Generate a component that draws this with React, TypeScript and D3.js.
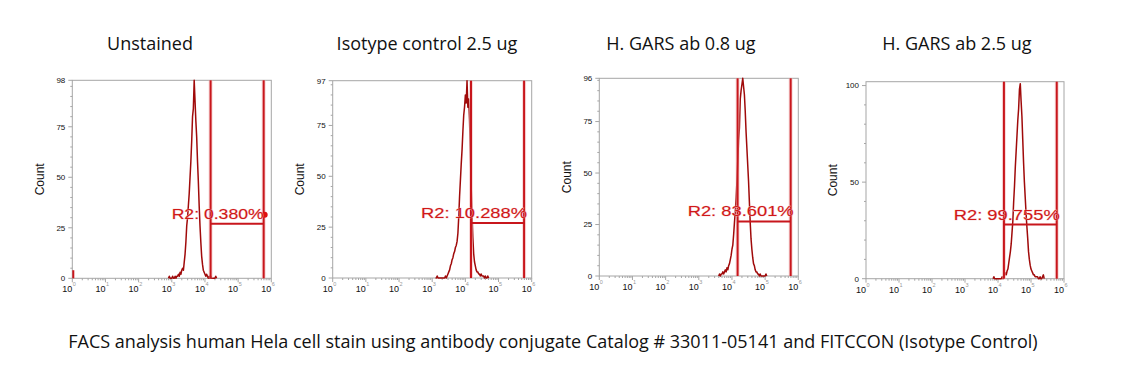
import React from "react";
import * as d3 from "d3";

// ---------- data ----------
const titles = ["Unstained", "Isotype control 2.5 ug", "H. GARS ab 0.8 ug", "H. GARS ab 2.5 ug"];
const gateLabels = ["R2: 0.380%", "R2: 10.288%", "R2: 83.601%", "R2: 99.755%"];
const yMaxes = [98, 97, 96, 102];
const yTickLabels = [
  [0, 25, 50, 75, 98],
  [0, 25, 50, 75, 97],
  [0, 25, 50, 75, 96],
  [0, 50, 100],
];
const yMinorSteps = [5, 5, 5, 10];
const gateLowLog = [4.17, 4.17, 4.17, 4.18];
const gateHighLog = [5.77, 5.77, 5.77, 5.78];
const gateLevels = [27, 27, 26.5, 28];
const gateHandle = [true, false, false, false];
const firstChannelCount = [4, 0, 0, 0];
const xDecades = [0, 1, 2, 3, 4, 5, 6];
const BIN_STEP = 0.025; // decades per histogram bin
const binStartLog = [2.9, 3.1, 3.6, 3.85];

const unstainedCounts = [
  0, 1, 0, 0, 0, 1, 0, 0, 1, 0, 1, 1, 2, 1, 3, 2, 4, 5, 4, 8, 12, 18, 26, 30, 36, 42, 50, 58, 68, 80,
  84, 98, 88, 78, 70, 58, 48, 36, 26, 18, 11, 7, 4, 3, 2, 1, 2, 1, 0, 1, 0, 1, 0, 0, 0, 0, 0, 1, 0,
];
const isotypeCounts = [
  0, 0, 1, 0, 0, 0, 0, 0, 0, 0, 0, 0, 1, 0, 1, 2, 3, 4, 6, 7, 9, 10, 12, 13, 15, 16, 18, 22, 30, 40,
  48, 56, 63, 72, 80, 84, 90, 86, 97, 84, 88, 78, 62, 45, 32, 20, 12, 8, 6, 4, 3, 3, 2, 2, 1, 2, 1, 1,
  1, 0, 1, 0, 0, 1, 0,
];
const gars08Counts = [
  0, 1, 0, 1, 1, 2, 1, 2, 3, 2, 4, 3, 5, 6, 8, 10, 13, 15, 20, 26, 31, 38, 46, 56, 66, 72, 86, 90, 93,
  96, 92, 88, 80, 70, 62, 54, 46, 36, 26, 18, 13, 9, 6, 5, 3, 2, 2, 1, 1, 0, 1, 0, 0, 0, 0, 0, 0, 1, 0,
];
const gars25Counts = [
  0, 1, 0, 0, 0, 0, 0, 0, 0, 0, 0, 1, 0, 1, 2, 3, 2, 4, 5, 8, 11, 14, 18, 24, 30, 40, 48, 58, 66, 74,
  82, 88, 98, 101, 92, 84, 72, 60, 50, 42, 34, 27, 21, 14, 10, 7, 5, 4, 3, 2, 2, 1, 1, 1, 1, 0, 0, 1,
  0, 0, 1, 2, 0,
];
const histograms = [unstainedCounts, isotypeCounts, gars08Counts, gars25Counts];

const caption =
  "FACS analysis human Hela cell stain using antibody conjugate Catalog # 33011-05141 and FITCCON (Isotype Control)";

// ---------- layout ----------
const W = 1139;
const H = 378;
const PLOT_W = 199;
const layout = [
  { x: 72.3, y: 80.3, h: 198, titleX: 150 },
  { x: 332.7, y: 80.7, h: 197.3, titleX: 427 },
  { x: 599.3, y: 78.3, h: 197.7, titleX: 681 },
  { x: 866, y: 81.7, h: 197, titleX: 957 },
];

const HIST = "#a00a0a";
const GATE = "#c8161c";
const AXIS = "#a6a6a6";
const TICKFONT = "'Liberation Sans', Arial, sans-serif";
const TITLEFONT = "'Open Sans', 'Noto Sans', sans-serif";

function Panel({ i }: { i: number }) {
  const L = layout[i];
  const w = i === 3 ? 198 : PLOT_W;
  const x = d3.scaleLinear().domain([0, 6]).range([L.x, L.x + w]);
  const y = d3.scaleLinear().domain([0, yMaxes[i]]).range([L.y + L.h, L.y]);
  const counts = histograms[i];
  const pts: [number, number][] = counts.map((c, k) => [binStartLog[i] + k * BIN_STEP, c]);
  const line = d3
    .line<[number, number]>()
    .x((d) => x(d[0]))
    .y((d) => y(d[1]));
  const bottom = L.y + L.h;

  const minorY: number[] = [];
  for (let v = 0; v <= yMaxes[i]; v += yMinorSteps[i]) {
    if (!yTickLabels[i].includes(v)) minorY.push(v);
  }
  const minorX: number[] = [];
  for (let d = 0; d < 6; d++) for (let k = 2; k <= 9; k++) minorX.push(d + Math.log10(k));

  const gl = x(gateLowLog[i]);
  const gh = x(gateHighLog[i]);
  const gy = y(gateLevels[i]);

  return (
    <g>
      <rect x={L.x} y={L.y} width={w} height={L.h} fill="white" stroke={AXIS} strokeWidth={1} />
      {yTickLabels[i].map((v) => (
        <g key={"yt" + v}>
          <line x1={L.x - 4} x2={L.x} y1={y(v)} y2={y(v)} stroke={AXIS} />
          <text
            x={L.x - 7}
            y={y(v)}
            dy="0.35em"
            textAnchor="end"
            fontSize={8}
            fontFamily={TICKFONT}
            fill="#111"
          >
            {v}
          </text>
        </g>
      ))}
      {minorY.map((v) => (
        <line key={"ym" + v} x1={L.x - 2} x2={L.x} y1={y(v)} y2={y(v)} stroke={AXIS} />
      ))}
      {xDecades.map((d) => (
        <g key={"xt" + d}>
          <line x1={x(d)} x2={x(d)} y1={bottom} y2={bottom + 4} stroke={AXIS} />
          <text x={x(d)} y={bottom + 14} textAnchor="end" fontSize={9} fontFamily={TICKFONT} fill="#111">
            10
          </text>
          <text x={x(d) + 0.5} y={bottom + 8} fontSize={5.5} fontFamily={TICKFONT} fill="#999">
            {d}
          </text>
        </g>
      ))}
      {minorX.map((v, k) => (
        <line key={"xm" + k} x1={x(v)} x2={x(v)} y1={bottom} y2={bottom + 2} stroke={AXIS} />
      ))}
      <text
        transform={`translate(${L.x - 33},${L.y + L.h / 2}) rotate(-90)`}
        textAnchor="middle"
        dy="0.35em"
        fontSize={12}
        fontFamily={TICKFONT}
        fill="#111"
      >
        Count
      </text>
      {firstChannelCount[i] > 0 && (
        <line
          x1={x(0) + 1}
          x2={x(0) + 1}
          y1={bottom}
          y2={y(firstChannelCount[i])}
          stroke={GATE}
          strokeWidth={2}
        />
      )}
      <path d={line(pts) || ""} fill="none" stroke={HIST} strokeWidth={1.5} strokeLinejoin="round" />
      <g>
        <line x1={gl} x2={gl} y1={L.y} y2={bottom} stroke="#f3b5b5" strokeWidth={4} opacity={0.5} />
        <line x1={gh} x2={gh} y1={L.y} y2={bottom} stroke="#f3b5b5" strokeWidth={4} opacity={0.5} />
        <line x1={gl} x2={gl} y1={L.y} y2={bottom} stroke={GATE} strokeWidth={2} />
        <line x1={gh} x2={gh} y1={L.y} y2={bottom} stroke={GATE} strokeWidth={2} />
        <line x1={gl} x2={gh} y1={gy} y2={gy} stroke={GATE} strokeWidth={2} />
        {gateHandle[i] && <circle cx={gh + 1} cy={gy - 9} r={3} fill="#e01010" />}
        <text
          x={gh + (i === 0 ? 0 : 3)}
          y={gy - 5}
          textAnchor="end"
          fontSize={14}
          fontFamily={TICKFONT}
          fill="#d01818"
          stroke="#f4c4c4"
          strokeWidth={0.6}
          paintOrder="stroke"
          textLength={i === 0 ? 92 : 106}
          lengthAdjust="spacingAndGlyphs"
        >
          {gateLabels[i]}
        </text>
      </g>
      <text x={L.titleX} y={50} textAnchor="middle" fontSize={18} fontFamily={TITLEFONT} fill="#111">
        {titles[i]}
      </text>
    </g>
  );
}

export default function App() {
  return (
    <svg
      width={W}
      height={H}
      viewBox={`0 0 ${W} ${H}`}
      style={{ position: "absolute", left: 0, top: 0, background: "white" }}
    >
      <rect x={0} y={0} width={W} height={H} fill="white" />
      {[0, 1, 2, 3].map((i) => (
        <Panel key={i} i={i} />
      ))}
      <text x={553} y={348} textAnchor="middle" fontSize={18} fontFamily={TITLEFONT} fill="#111">
        {caption}
      </text>
    </svg>
  );
}
